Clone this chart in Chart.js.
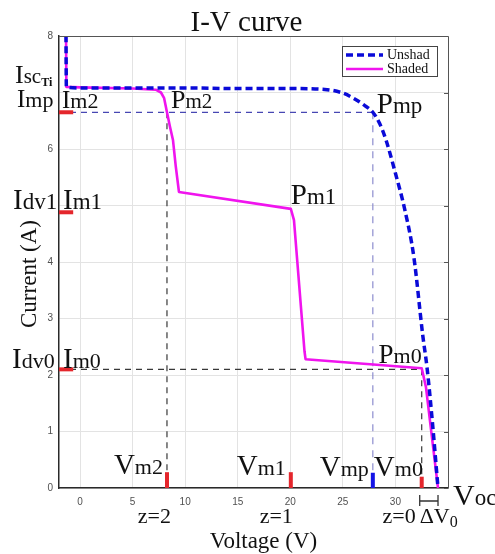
<!DOCTYPE html>
<html>
<head>
<meta charset="utf-8">
<script src="https://cdn.jsdelivr.net/npm/chart.js@4.4.1/dist/chart.umd.min.js"></script>
<style>
  html, body { margin: 0; padding: 0; background: #fff; }
  canvas { display: block; }
</style>
</head>
<body>
<canvas id="c" width="495" height="554"></canvas>
<script>
// ---------- data ----------
const voltageTicks = [0, 5, 10, 15, 20, 25, 30, 35];
const currentTicks = [0, 1, 2, 3, 4, 5, 6, 7, 8];
const hiddenVoltageLabels = [35];
const hiddenCurrentLabels = [5, 7];

// Unshaded I-V curve
const unshadV = [-1.35, -1.3, 0, 5, 10, 15, 20, 23.5, 25, 26, 27, 27.85, 28.5, 29.1, 30.0, 30.9, 31.75, 32.6, 33.0, 33.5, 34.05];
const unshadI = [8.6, 7.1, 7.08, 7.08, 7.08, 7.07, 7.07, 7.05, 6.99, 6.9, 6.78, 6.65, 6.45, 6.16, 5.57, 4.92, 4.09, 2.7, 2.14, 1.2, 0];

// Shaded I-V curve
const shadedV = [-1.35, -1.3, 0, 5, 7.2, 7.7, 8.0, 8.27, 8.55, 8.84, 9.1, 9.41, 20.05, 20.35, 21.35, 21.45, 32.5, 32.9, 34.05];
const shadedI = [8.6, 7.1, 7.09, 7.07, 7.05, 7.0, 6.9, 6.65, 6.4, 6.16, 5.7, 5.24, 4.94, 4.74, 2.42, 2.28, 2.12, 1.79, 0];

// Key operating points
const Vm2 = 8.27, Vm1 = 20.05, Vmp = 27.85, Vm0 = 32.5, Voc = 34.05;
const Imp = 6.65, Im1 = 4.88, Im0 = 2.1, IscTi = 7.08, Ipm1 = 4.94;
const markerHeights = { Vm2: 0.28, Vm1: 0.28, Vmp: 0.27, Vm0: 0.2 };
const axisMinV = -2, axisMaxV = 35, axisMinI = 0, axisMaxI = 8;
const markerEndV = -0.65;

// ---------- helpers ----------
const toPts = (xs, ys) => xs.map((x, i) => ({ x, y: ys[i] }));
const seg = (x1, y1, x2, y2) => [{ x: x1, y: y1 }, { x: x2, y: y2 }];
const SERIF = '"Liberation Serif", "Times New Roman", serif';

function guide(data, color, dash) {
  return { data, borderColor: color, borderWidth: 1.2, borderDash: dash || [6, 5], pointRadius: 0, tension: 0, order: 5, fill: false };
}
function marker(data, color) {
  return { data, borderColor: color, borderWidth: 4, borderCapStyle: 'butt', pointRadius: 0, tension: 0, order: 4, fill: false };
}

const RED = '#e4262c';
const datasets = [
  { label: 'Unshad', data: toPts(unshadV, unshadI), borderColor: '#0a0ad8', borderWidth: 3.5, borderDash: [7, 4],
    pointRadius: 0, cubicInterpolationMode: 'monotone', order: 0, fill: false },
  { label: 'Shaded', data: toPts(shadedV, shadedI), borderColor: '#f014ee', borderWidth: 2.6,
    pointRadius: 0, tension: 0, order: 1, fill: false },
  guide(seg(axisMinV, Imp, Vmp, Imp), '#4747b3'),
  guide(seg(Vmp, Imp, Vmp, 0), '#8d8dcf', [7, 6]),
  guide(seg(Vm2, Imp, Vm2, 0), '#383838'),
  guide(seg(axisMinV, Im0, Vm0, Im0), '#383838'),
  guide(seg(Vm0, Im0, Vm0, 0), '#383838'),
  marker(seg(axisMinV, Imp, markerEndV, Imp), RED),
  marker(seg(axisMinV, Im1, markerEndV, Im1), RED),
  marker(seg(axisMinV, Im0, markerEndV, Im0), RED),
  marker(seg(Vm2, 0, Vm2, markerHeights.Vm2), RED),
  marker(seg(Vm1, 0, Vm1, markerHeights.Vm1), RED),
  marker(seg(Vmp, 0, Vmp, markerHeights.Vmp), '#1414e6'),
  marker(seg(Vm0, 0, Vm0, markerHeights.Vm0), RED)
];

// rich text: parts = [[text, size, dy, bold]]
function rich(ctx, parts, x, y, align) {
  let w = 0;
  const m = parts.map(p => {
    ctx.font = (p[3] ? 'bold ' : '') + p[1] + 'px ' + SERIF;
    const pw = ctx.measureText(p[0]).width;
    w += pw;
    return pw;
  });
  let cx = align === 'right' ? x - w : (align === 'center' ? x - w / 2 : x);
  ctx.textAlign = 'left';
  ctx.textBaseline = 'alphabetic';
  parts.forEach((p, i) => {
    ctx.font = (p[3] ? 'bold ' : '') + p[1] + 'px ' + SERIF;
    ctx.fillText(p[0], cx, y + (p[2] || 0));
    cx += m[i];
  });
}

const decor = {
  id: 'decor',
  afterDatasetsDraw(chart) {
    const { ctx, chartArea: a, scales: { x: xs, y: ys } } = chart;
    const X = v => xs.getPixelForValue(v);
    const Y = v => ys.getPixelForValue(v);
    ctx.save();
    // top / right frame
    ctx.strokeStyle = '#555';
    ctx.lineWidth = 1;
    ctx.beginPath();
    ctx.moveTo(a.left, a.top + 0.5); ctx.lineTo(a.right + 0.5, a.top + 0.5); ctx.lineTo(a.right + 0.5, a.bottom);
    ctx.stroke();
    currentTicks.forEach(t => {
      const py = Math.round(Y(t)) + 0.5;
      ctx.beginPath(); ctx.moveTo(a.right, py); ctx.lineTo(a.right - 4, py); ctx.stroke();
    });

    // legend
    const lx = a.right - 106, ly = a.top + 10, lw = 95, lh = 30;
    ctx.fillStyle = '#fff';
    ctx.fillRect(lx, ly, lw, lh);
    ctx.strokeStyle = '#444';
    ctx.lineWidth = 1;
    ctx.strokeRect(lx + 0.5, ly + 0.5, lw, lh);
    ctx.lineWidth = 3.5; ctx.strokeStyle = '#0a0ad8'; ctx.setLineDash([7, 4]);
    ctx.beginPath(); ctx.moveTo(lx + 4, ly + 9); ctx.lineTo(lx + 41, ly + 9); ctx.stroke();
    ctx.setLineDash([]);
    ctx.lineWidth = 2.6; ctx.strokeStyle = '#f014ee';
    ctx.beginPath(); ctx.moveTo(lx + 4, ly + 23); ctx.lineTo(lx + 41, ly + 23); ctx.stroke();
    ctx.fillStyle = '#111';
    rich(ctx, [['Unshad', 14]], lx + 45, ly + 13, 'left');
    rich(ctx, [['Shaded', 14]], lx + 45, ly + 27, 'left');

    // title & axis titles
    ctx.fillStyle = '#111';
    rich(ctx, [['I-V curve', 29]], (a.left + a.right) / 2 - 7, 31, 'center');
    rich(ctx, [['Voltage (V)', 23]], (a.left + a.right) / 2 + 10, 548, 'center');
    ctx.save();
    ctx.translate(36, (a.top + a.bottom) / 2 + 12);
    ctx.rotate(-Math.PI / 2);
    rich(ctx, [['Current (A)', 23]], 0, 0, 'center');
    ctx.restore();

    // left-side current labels
    rich(ctx, [['I', 26], ['sc', 21], ['Ti', 12, 3, true]], a.left - 44, Y(IscTi) - 5, 'left');
    rich(ctx, [['I', 25], ['mp', 22]], a.left - 42, Y(Imp) - 5, 'left');
    rich(ctx, [['I', 25], ['m2', 22]], a.left + 3, Y(Imp) - 4, 'left');
    rich(ctx, [['I', 29], ['dv1', 23]], a.left - 46, Y(Im1) - 3, 'left');
    rich(ctx, [['I', 29], ['m1', 23]], a.left + 4, Y(Im1) - 3, 'left');
    rich(ctx, [['I', 29], ['dv0', 22]], a.left - 47, Y(Im0) - 1, 'left');
    rich(ctx, [['I', 29], ['m0', 22]], a.left + 4, Y(Im0) - 1, 'left');

    // power point labels
    rich(ctx, [['P', 26], ['m2', 21]], X(Vm2) + 4, Y(Imp) - 4, 'left');
    rich(ctx, [['P', 29], ['mp', 23]], X(Vmp) + 4, Y(Imp) + 1, 'left');
    rich(ctx, [['P', 29], ['m1', 23]], X(Vm1), Y(Ipm1) - 5, 'left');
    rich(ctx, [['P', 27], ['m0', 22]], X(Vm0), Y(Im0) - 6, 'right');

    // voltage labels
    rich(ctx, [['V', 29], ['m2', 22]], X(Vm2) - 4, a.bottom - 14, 'right');
    rich(ctx, [['V', 29], ['m1', 22]], X(Vm1) - 5, a.bottom - 13, 'right');
    rich(ctx, [['V', 29], ['mp', 22]], X(Vmp) - 4, a.bottom - 12, 'right');
    rich(ctx, [['V', 29], ['m0', 22]], X(Vmp) + 1, a.bottom - 12, 'left');
    rich(ctx, [['V', 30], ['oc', 23]], X(Voc) + 15, a.bottom + 17, 'left');

    // z labels
    rich(ctx, [['z=2', 22]], X(Vm2) + 4, a.bottom + 35, 'right');
    rich(ctx, [['z=1', 22]], X(Vm1) + 2, a.bottom + 35, 'right');
    rich(ctx, [['z=0', 22]], X(Vm0) - 6, a.bottom + 35, 'right');
    rich(ctx, [['\u0394V', 22], ['0', 16, 4]], X(Vm0) - 2, a.bottom + 35, 'left');

    // delta V0 bracket
    ctx.strokeStyle = '#333'; ctx.lineWidth = 1.3;
    const by = a.bottom + 13;
    ctx.beginPath();
    ctx.moveTo(X(Vm0) - 2, by); ctx.lineTo(X(Voc), by);
    ctx.moveTo(X(Vm0) - 2, by - 6); ctx.lineTo(X(Vm0) - 2, by + 5);
    ctx.moveTo(X(Voc), by - 6); ctx.lineTo(X(Voc), by + 5);
    ctx.stroke();
    ctx.restore();
  }
};

new Chart(document.getElementById('c'), {
  type: 'line',
  data: { datasets },
  plugins: [decor],
  options: {
    responsive: false,
    animation: false,
    devicePixelRatio: 1,
    layout: { padding: { left: 0, top: 36, right: 47, bottom: 0 } },
    plugins: { legend: { display: false }, title: { display: false }, tooltip: { enabled: false } },
    elements: { line: { borderJoinStyle: 'round' } },
    scales: {
      x: {
        type: 'linear', min: axisMinV, max: axisMaxV,
        afterBuildTicks: s => { s.ticks = voltageTicks.map(v => ({ value: v })); },
        afterFit: s => { s.height = 66; },
        ticks: {
          autoSkip: false, maxRotation: 0, padding: 8, color: '#505050',
          font: { family: '"Liberation Sans", Arial, sans-serif', size: 10 },
          callback: v => hiddenVoltageLabels.includes(v) ? '' : String(v)
        },
        grid: { color: '#e3e3e3', drawTicks: false, lineWidth: 1 },
        border: { color: '#2a2a2a', width: 1.5 }
      },
      y: {
        type: 'linear', min: axisMinI, max: axisMaxI,
        afterBuildTicks: s => { s.ticks = currentTicks.map(v => ({ value: v })); },
        afterFit: s => { s.width = 59; },
        ticks: {
          autoSkip: false, padding: 6, color: '#505050',
          font: { family: '"Liberation Sans", Arial, sans-serif', size: 10 },
          callback: v => hiddenCurrentLabels.includes(v) ? '' : String(v)
        },
        grid: { color: '#e3e3e3', drawTicks: false, lineWidth: 1 },
        border: { color: '#2a2a2a', width: 1.5 }
      }
    }
  }
});
</script>
</body>
</html>
